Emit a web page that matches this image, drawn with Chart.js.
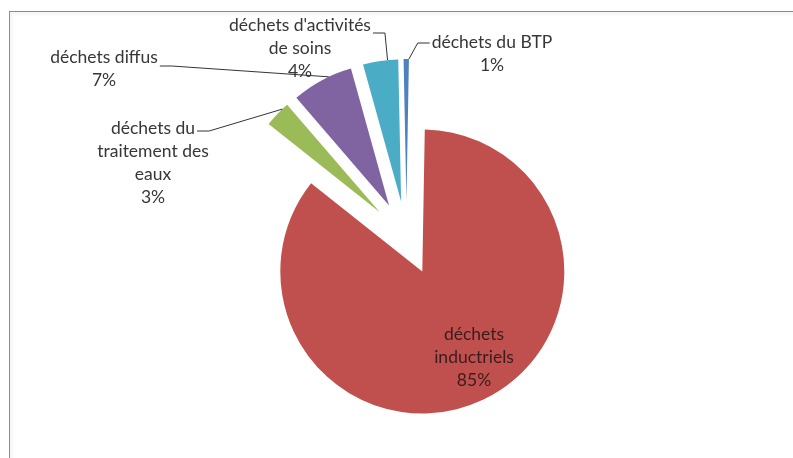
<!DOCTYPE html>
<html>
<head>
<meta charset="utf-8">
<script src="https://cdn.jsdelivr.net/npm/chart.js@4.4.1/dist/chart.umd.min.js"></script>
<style>
  html, body { margin: 0; padding: 0; background: #fff; }
  #wrap { position: relative; width: 793px; height: 458px; overflow: hidden; }
  #frame {
    position: absolute; left: 9px; top: 11px; width: 800px; height: 460px;
    border-left: 1px solid #8c8c8c; border-top: 1px solid #8c8c8c;
    box-shadow: inset 2px 2px 4px rgba(0,0,0,0.05);
  }
  canvas { position: absolute; left: 0; top: 0; }
</style>
</head>
<body>
<div id="wrap">
  <div id="frame"></div>
  <canvas id="chart" width="793" height="458"></canvas>
</div>
<script>
const categories = ['déchets inductriels', 'déchets du traitement des eaux', 'déchets diffus', "déchets d'activités de soins", 'déchets du BTP']
const shares     = [85.4, 3, 7, 4, 0.6]
const colors     = ['#C0504D', '#9BBB59', '#8064A2', '#4BACC6', '#4F81BD']

// wrapped label lines, text centre, leader hook (side, height) and where the leader meets the slice (0..1 across it)
const labelLayout = [
  { lines: ['déchets', 'inductriels'], inside: true, dist: 100, nudge: [9, -5] },
  { lines: ['déchets du', 'traitement des', 'eaux'], x: 153, y: 128, side: 1, hookY: 131, at: 0.76 },
  { lines: ['déchets diffus'], x: 104, y: 57, side: 1, hookY: 66, at: 0.62 },
  { lines: ["déchets d'activités", 'de soins'], x: 300, y: 25, side: 1, hookY: 33, at: 0.7 },
  { lines: ['déchets du BTP'], x: 492, y: 42, side: -1, hookY: 43, at: 1 }
]

const RADIUS  = 142
const EXPLODE = 37
const LINE    = 23
const total   = shares.reduce((s, v) => s + v, 0)

// every slice pulled out of the centre by the same distance (like excel's point explosion);
// chart.js's own offset also grows the radius and trims the angle, so move the arcs here instead
const explode = {
  id: 'explode',
  beforeDatasetDraw(chart, args) {
    const { ctx } = chart
    args.meta.data.forEach(arc => {
      const mid = (arc.startAngle + arc.endAngle) / 2
      ctx.save()
      ctx.translate(Math.cos(mid) * EXPLODE, Math.sin(mid) * EXPLODE)
      arc.draw(ctx)
      ctx.restore()
    })
    return false
  }
}

const pieLabels = {
  id: 'pieLabels',
  afterDatasetsDraw(chart) {
    const { ctx } = chart
    const arcs = chart.getDatasetMeta(0).data
    ctx.save()
    ctx.font = '17.5px Lato'
    ctx.textAlign = 'center'
    ctx.textBaseline = 'middle'
    ctx.lineWidth = 1
    ctx.strokeStyle = '#333'
    arcs.forEach((arc, i) => {
      const L = labelLayout[i]
      const mid = (arc.startAngle + arc.endAngle) / 2
      const vx = arc.x + Math.cos(mid) * EXPLODE
      const vy = arc.y + Math.sin(mid) * EXPLODE
      const lines = [...L.lines, Math.round(shares[i] / total * 100) + '%']
      let x, y
      if (L.inside) {
        x = vx + Math.cos(mid) * L.dist + L.nudge[0]
        y = vy + Math.sin(mid) * L.dist + L.nudge[1] - (lines.length - 1) * LINE / 2
        ctx.fillStyle = '#3a1c1c'
      } else {
        x = L.x
        y = L.y
        const w = ctx.measureText(lines[0]).width
        const hx = x + L.side * (w / 2 + 2)
        const a = arc.startAngle + (arc.endAngle - arc.startAngle) * L.at
        ctx.beginPath()
        ctx.moveTo(hx, L.hookY)
        ctx.lineTo(hx + L.side * 12, L.hookY)
        ctx.lineTo(vx + Math.cos(a) * arc.outerRadius, vy + Math.sin(a) * arc.outerRadius)
        ctx.stroke()
        ctx.fillStyle = '#363636'
      }
      lines.forEach((t, k) => ctx.fillText(t, x, y + k * LINE))
    })
    ctx.restore()
  }
}

new Chart(document.getElementById('chart'), {
  type: 'pie',
  data: {
    labels: categories,
    datasets: [{
      data: shares,
      backgroundColor: colors,
      borderWidth: 0,
      hoverOffset: 0
    }]
  },
  options: {
    responsive: false,
    animation: false,
    radius: RADIUS,
    rotation: 1,
    layout: { padding: { left: 20, right: 0, top: 18, bottom: 0 } },
    plugins: {
      legend: { display: false },
      tooltip: { enabled: false }
    }
  },
  plugins: [explode, pieLabels]
})
</script>
</body>
</html>
